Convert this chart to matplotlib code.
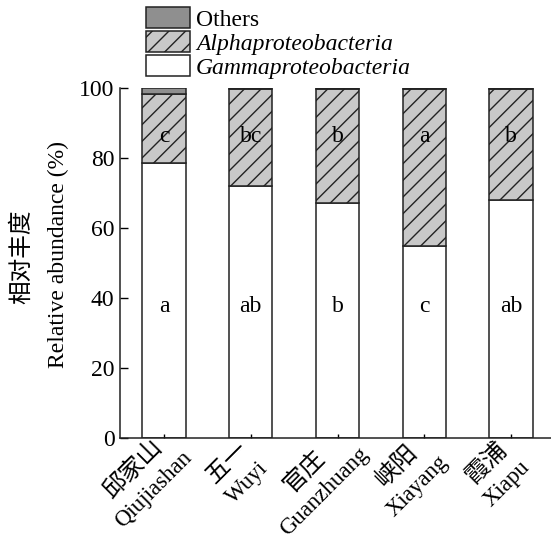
import matplotlib
matplotlib.use("Agg")
import matplotlib.pyplot as plt
from matplotlib.patches import Patch
import numpy as np

plt.rcParams['font.family'] = ['Liberation Serif', 'Noto Sans CJK SC']
plt.rcParams['hatch.linewidth'] = 1.0

# 采样点
sites_cn = ['邱家山', '五一', '官庄', '峡阳', '霞浦']
sites_en = ['Qiujiashan', 'Wuyi', 'Guanzhuang', 'Xiayang', 'Xiapu']
gamma = [78.7, 72.0, 67.2, 54.9, 68.0]
others = [1.7, 0.3, 0.2, 0.3, 0.2]
alpha = [100 - g - o for g, o in zip(gamma, others)]
# 显著性字母
sig_gamma = ['a', 'ab', 'b', 'c', 'ab']
sig_alpha = ['c', 'bc', 'b', 'a', 'b']
sig_gamma_y = 37.5
sig_alpha_y = 86.0

W_PX, H_PX = 551, 539
fig = plt.figure(figsize=(W_PX / 100, H_PX / 100), dpi=100)
ax = fig.add_axes([120/W_PX, 1 - 438/H_PX, 431/W_PX, 350/H_PX])

x = np.arange(len(sites_cn))
w = 0.5
ec = '#222222'
ax.bar(x, gamma, w, color='white', edgecolor=ec, linewidth=1.1)
ax.bar(x, alpha, w, bottom=gamma, color='#c8c8c8', edgecolor=ec, linewidth=1.1, hatch='//')
bot2 = [g + a for g, a in zip(gamma, alpha)]
ax.bar(x, others, w, bottom=bot2, color='#8f8f8f', edgecolor=ec, linewidth=1.1)

for i in range(len(x)):
    ax.text(x[i], sig_gamma_y, sig_gamma[i], ha='center', va='center', fontsize=17)
    ax.text(x[i], sig_alpha_y, sig_alpha[i], ha='center', va='center', fontsize=17)

ax.set_xlim(-0.507, 4.46)
ax.set_ylim(0, 100)
ax.set_yticks([0, 20, 40, 60, 80, 100])
ax.set_xticks(x)
ax.set_xticklabels([])
ax.tick_params(axis='y', direction='in', length=6, width=1, labelsize=17, pad=4)
ax.tick_params(axis='x', direction='in', length=3, width=1)
for s in ['top', 'right']:
    ax.spines[s].set_visible(False)
for s in ['left', 'bottom']:
    ax.spines[s].set_linewidth(1.1)
    ax.spines[s].set_color(ec)

# 两行斜置的站点名：中文在上，英文在下
fig.canvas.draw()
r = fig.canvas.get_renderer()
c45 = np.cos(np.pi / 4)
for i in range(len(x)):
    px, py = ax.transData.transform((x[i], 0))
    t1 = fig.text(0, 0, sites_cn[i], fontsize=17.5)
    t2 = fig.text(0, 0, sites_en[i], fontsize=16.5)
    wid = max(t1.get_window_extent(r).width, t2.get_window_extent(r).width)
    back = 24 + 0.4 * wid / 2
    # 沿文字方向后退 back，再沿垂直方向下移
    bx = px - c45 * back
    by = py - c45 * back
    for t, down in ((t1, 0.5), (t2, 29)):
        t.set_position(((bx + c45 * down) / W_PX, (by - c45 * down) / H_PX))
        t.set_rotation(45)
        t.set_rotation_mode('anchor')
        t.set_ha('center')
        t.set_va('center')

fig.text(22/W_PX, 1 - 257/H_PX, '相对丰度', rotation=90, ha='center', va='center', fontsize=17)
fig.text(58/W_PX, 1 - 254/H_PX, 'Relative abundance (%)', rotation=90, ha='center', va='center', fontsize=17)

handles = [Patch(facecolor='#8f8f8f', edgecolor=ec, linewidth=1.1),
           Patch(facecolor='#c8c8c8', edgecolor=ec, linewidth=1.1, hatch='//'),
           Patch(facecolor='white', edgecolor=ec, linewidth=1.1)]
labels = ['Others', 'Alphaproteobacteria', 'Gammaproteobacteria']
leg = fig.legend(handles, labels, loc='upper left', bbox_to_anchor=(146/W_PX, 1 - 7/H_PX),
                 frameon=False, fontsize=17, handlelength=1.86, handleheight=1.0,
                 labelspacing=0.02, handletextpad=0.25, borderpad=0, borderaxespad=0)
for t in leg.get_texts()[1:]:
    t.set_style('italic')

fig.savefig('out.png', dpi=100)
